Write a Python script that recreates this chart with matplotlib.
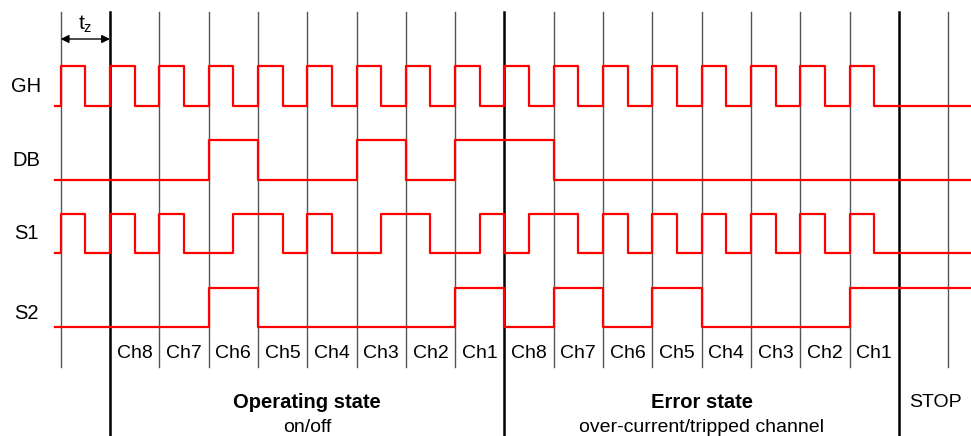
import numpy as np
import matplotlib
matplotlib.use('Agg')
import matplotlib.pyplot as plt

plt.rcParams['font.family'] = ['Liberation Sans', 'DejaVu Sans']

# signal levels, one value per half time slot (slots 0..18)
gh = [1, 0] * 17 + [0, 0] * 2
s1 = [1, 0, 1, 0, 1, 0, 0, 1, 1, 0, 1, 0, 0, 1, 1, 0, 0, 1, 0, 1,
      1, 0, 1, 0, 1, 0, 1, 0, 1, 0, 1, 0, 1, 0, 0, 0, 0, 0]
# one value per full time slot
db = [0, 0, 0, 1, 0, 0, 1, 0, 1, 1, 0, 0, 0, 0, 0, 0, 0, 0, 0]
s2 = [0, 0, 0, 1, 0, 0, 0, 0, 1, 0, 1, 0, 1, 0, 0, 0, 1, 1, 1]

channels = ['Ch8', 'Ch7', 'Ch6', 'Ch5', 'Ch4', 'Ch3', 'Ch2', 'Ch1']
row_names = ['GH', 'DB', 'S1', 'S2']
row_low = [106, 180, 253, 327]     # pixel rows (y axis runs downward)
row_high = [66, 140, 214, 288]
label_y = [86, 160, 233, 313]

n_slots = 19
state_edges = [1, 9, 17]           # thick separators

fig = plt.figure(figsize=(9.71, 4.36), dpi=100)
ax = fig.add_axes([0, 0, 1, 1])
ax.set_xlim(-1.231, 18.464)
ax.set_ylim(436, 0)
ax.axis('off')

# vertical slot lines
for k in range(n_slots):
    if k in state_edges:
        ax.plot([k, k], [12, 436], color='black', lw=1.8, zorder=1)
    else:
        ax.plot([k, k], [12, 367], color='#555555', lw=1.0, zorder=1)


def draw_signal(levels, step, lo, hi):
    t = np.concatenate([[-0.12], np.arange(len(levels)) * step, [len(levels) * step]])
    v = np.concatenate([[0], levels, [levels[-1]]])
    y = np.where(v > 0, hi, lo)
    ax.step(t, y, where='post', color='#ff0000', lw=1.6, zorder=3)


for sig, step, lo, hi in zip([gh, db, s1, s2], [0.5, 1, 0.5, 1], row_low, row_high):
    draw_signal(sig, step, lo, hi)

for name, y in zip(row_names, label_y):
    ax.text(-0.70, y, name, ha='center', va='center', fontsize=14.5)

# channel labels
for i, ch in enumerate(channels):
    ax.text(1.5 + i, 353, ch, ha='center', va='center', fontsize=14)
    ax.text(9.5 + i, 353, ch, ha='center', va='center', fontsize=14)

# t_z arrow
ax.annotate('', xy=(0, 39), xytext=(1, 39),
            arrowprops=dict(arrowstyle='<|-|>', color='black', lw=1.0,
                            shrinkA=0, shrinkB=0, mutation_scale=12))
ax.text(0.5, 24, r'$\mathregular{t_z}$', ha='center', va='center', fontsize=15)

ax.text(5.0, 402, 'Operating state', ha='center', va='center', fontsize=14.5, fontweight='bold')
ax.text(5.0, 427, 'on/off', ha='center', va='center', fontsize=14)
ax.text(13.0, 402, 'Error state', ha='center', va='center', fontsize=14.5, fontweight='bold')
ax.text(13.0, 427, 'over-current/tripped channel', ha='center', va='center', fontsize=14)
ax.text(17.75, 402, 'STOP', ha='center', va='center', fontsize=14)

fig.savefig('out.png', dpi=100)
